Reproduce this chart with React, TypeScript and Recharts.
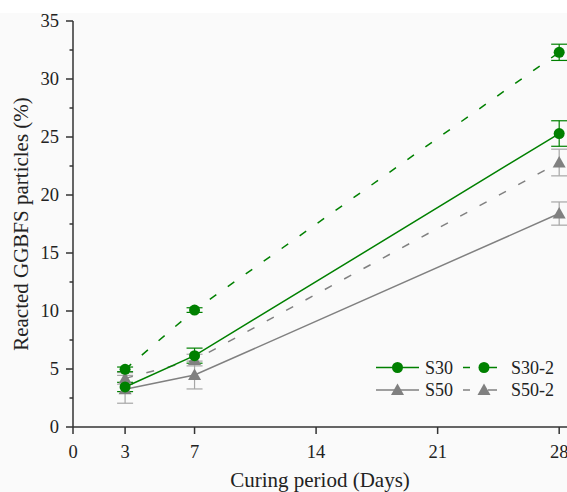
import React from 'react';
import { LineChart, Line, XAxis, YAxis, ErrorBar } from 'recharts';

const days = [3, 7, 28];
const s30 = [3.45, 6.15, 25.3];
const s30Err = [0.4, 0.65, 1.1];
const s30b = [4.97, 10.08, 32.3];
const s30bErr = [0.2, 0.2, 0.7];
const s50 = [3.25, 4.48, 18.4];
const s50Err = [1.2, 1.2, 1.0];
const s50b = [4.19, 5.77, 22.8];
const s50bErr = [0.5, 0.5, 1.15];

const xTicks = [0, 3, 7, 14, 21, 28];
const yTicks = [0, 2.5, 5, 7.5, 10, 12.5, 15, 17.5, 20, 22.5, 25, 27.5, 30, 32.5, 35];

const GREEN = '#008000';
const GRAY = '#808080';
const AXIS = '#333333';
const FONT = "'Liberation Serif', 'Times New Roman', Tinos, 'DejaVu Serif', serif";
const TICK_SIZE = 7;
const TICK_MARGIN = 7;

const data = days.map((d, i) => ({
  day: d,
  s30: s30[i], s30e: s30Err[i],
  s30b: s30b[i], s30be: s30bErr[i],
  s50: s50[i], s50e: s50Err[i],
  s50b: s50b[i], s50be: s50bErr[i],
}));

const series = [
  { key: 's30', name: 'S30', color: GREEN, errColor: GREEN, dash: undefined, shape: 'circle' },
  { key: 's30b', name: 'S30-2', color: GREEN, errColor: GREEN, dash: '8 14', shape: 'circle' },
  { key: 's50', name: 'S50', color: GRAY, errColor: '#a6a6a6', dash: undefined, shape: 'triangle' },
  { key: 's50b', name: 'S50-2', color: GRAY, errColor: '#a6a6a6', dash: '8 14', shape: 'triangle' },
];

const textStyle = { fontSize: 18.5, fontFamily: FONT, fill: '#222' };
const labelStyle = { fontSize: 21, fontFamily: FONT, fill: '#222' };

const Marker = ({ cx, cy, shape, color }: any) => {
  if (cx == null || cy == null) return null;
  if (shape === 'circle') return <circle cx={cx} cy={cy} r={5.5} fill={color} stroke="none" />;
  return (
    <polygon
      points={`${cx},${cy - 6.5} ${cx - 6.5},${cy + 5} ${cx + 6.5},${cy + 5}`}
      fill={color}
      stroke="none"
    />
  );
};

const YTick = (props: any) => {
  const { x, y, payload } = props;
  const v = payload.value;
  const major = Math.abs(v % 5) < 1e-6;
  const ax = x + TICK_MARGIN + TICK_SIZE;
  return (
    <g>
      <line x1={ax} x2={ax - (major ? TICK_SIZE : 3.5)} y1={y} y2={y} stroke={AXIS} strokeWidth={1.5} />
      {major && (
        <text x={x} y={y} dy="0.35em" textAnchor="end" style={textStyle}>
          {v}
        </text>
      )}
    </g>
  );
};

const XTick = (props: any) => {
  const { x, y, payload } = props;
  return (
    <text x={x} y={y} dy="0.71em" textAnchor="middle" style={textStyle}>
      {payload.value}
    </text>
  );
};

const LegendBox = () => {
  const rows = [
    [series[0], series[1]],
    [series[2], series[3]],
  ];
  return (
    <svg width={200} height={50} style={{ position: 'absolute', left: 370, top: 355, overflow: 'visible' }}>
      {rows.map((row, r) =>
        row.map((s, c) => {
          const y = 12.5 + r * 22.5;
          const x0 = c === 0 ? 6 : 93;
          const x1 = c === 0 ? 49 : 127;
          const mx = c === 0 ? 27.5 : 114;
          const tx = c === 0 ? 55 : 141;
          return (
            <g key={s.key}>
              {c === 0 ? (
                <line x1={x0} x2={x1} y1={y} y2={y} stroke={s.color} strokeWidth={1.5} />
              ) : (
                <g>
                  <line x1={x0} x2={x0 + 7} y1={y} y2={y} stroke={s.color} strokeWidth={1.5} />
                  <line x1={x1 - 9} x2={x1} y1={y} y2={y} stroke={s.color} strokeWidth={1.5} />
                </g>
              )}
              <Marker cx={mx} cy={y} shape={s.shape} color={s.color} />
              <text x={tx} y={y} dy="0.35em" style={{ ...textStyle, fontSize: 18 }}>
                {s.name}
              </text>
            </g>
          );
        })
      )}
    </svg>
  );
};

export default function App() {
  return (
    <div
      style={{
        position: 'absolute',
        left: 0,
        top: 0,
        width: 567,
        height: 492,
        overflow: 'hidden',
        background: 'linear-gradient(#ffffff 0 13px, #fafafa 13px)',
      }}
    >
      <LineChart width={567} height={492} data={data} margin={{ top: 21, right: 0, bottom: 0, left: 0 }}>
        <XAxis
          xAxisId="top"
          orientation="top"
          dataKey="day"
          type="number"
          domain={[0, 28.45]}
          allowDataOverflow
          tick={false}
          tickLine={false}
          height={0}
          axisLine={{ stroke: AXIS, strokeWidth: 1.5 }}
        />
        <XAxis
          dataKey="day"
          type="number"
          domain={[0, 28.45]}
          allowDataOverflow
          ticks={xTicks}
          interval={0}
          height={65}
          tickSize={TICK_SIZE}
          tickMargin={11}
          tick={<XTick />}
          tickLine={{ stroke: AXIS, strokeWidth: 1.5 }}
          axisLine={{ stroke: AXIS, strokeWidth: 1.5 }}
          label={{
            value: 'Curing period (Days)',
            position: 'insideBottom',
            offset: 5,
            style: labelStyle,
          }}
        />
        <YAxis
          type="number"
          domain={[0, 35]}
          ticks={yTicks}
          interval={0}
          width={73}
          tickSize={TICK_SIZE}
          tickMargin={TICK_MARGIN}
          tickLine={false}
          tick={<YTick />}
          axisLine={{ stroke: AXIS, strokeWidth: 1.5 }}
          label={{
            value: 'Reacted GGBFS particles (%)',
            angle: -90,
            position: 'insideLeft',
            offset: 21,
            style: { ...labelStyle, textAnchor: 'middle' },
          }}
        />
        {[series[2], series[3], series[0], series[1]].map((s) => (
          <Line
            key={s.key}
            dataKey={s.key}
            name={s.name}
            type="linear"
            stroke={s.color}
            strokeWidth={1.5}
            strokeDasharray={s.dash}
            isAnimationActive={false}
            dot={(p: any) => <Marker key={`${s.key}-${p.index}`} cx={p.cx} cy={p.cy} shape={s.shape} color={s.color} />}
            activeDot={false}
          >
            <ErrorBar dataKey={`${s.key}e`} direction="y" width={8} stroke={s.errColor} strokeWidth={1.2} />
          </Line>
        ))}
      </LineChart>
      <LegendBox />
    </div>
  );
}
